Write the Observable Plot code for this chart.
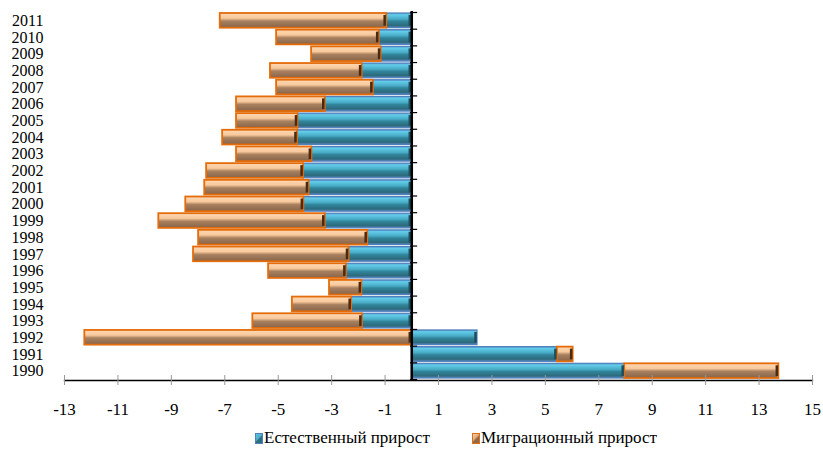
<!DOCTYPE html>
<html>
<head>
<meta charset="utf-8">
<script src="https://cdn.jsdelivr.net/npm/d3@7"></script>
<script src="https://cdn.jsdelivr.net/npm/@observablehq/plot@0.6"></script>
<style>
  body { margin: 0; background: #fff; font-family: 'Liberation Serif', 'Times New Roman', serif; }
  #chart { width: 823px; position: relative; }
  #chart svg, #chart svg text { font-family: 'Liberation Serif', 'Times New Roman', serif !important; }
  .legend { position: relative; height: 21px; font-size: 17px; color: #000; }
  .legend .item { position: absolute; top: 0px; display: flex; align-items: center; white-space: nowrap; }
  .legend .sw { width: 6px; height: 9px; margin-right: 1px; }
  .sw.blue { background: linear-gradient(135deg, #5CC6E4 0%, #4BACC6 45%, #2F6E80 55%, #2F6E80 100%); border: 1px solid #4F81BD; }
  .sw.orange { background: linear-gradient(135deg, #FCD5B4 0%, #D9A77A 45%, #8E6B4E 55%, #8E6B4E 100%); border: 1px solid #E46C0A; }
</style>
</head>
<body>
<div id="chart"></div>
<script>
const years = ["1990","1991","1992","1993","1994","1995","1996","1997","1998","1999","2000","2001","2002","2003","2004","2005","2006","2007","2008","2009","2010","2011"];
const natural = [7.97, 5.45, 2.46, -1.85, -2.25, -1.87, -2.45, -2.35, -1.65, -3.24, -4.04, -3.85, -4.05, -3.74, -4.28, -4.26, -3.24, -1.44, -1.86, -1.15, -1.22, -0.94];
const migration = [5.77, 0.59, -12.24, -4.10, -2.22, -1.21, -2.91, -5.82, -6.33, -6.23, -4.42, -3.90, -3.63, -2.82, -2.80, -2.30, -3.32, -3.62, -3.43, -2.60, -3.84, -6.23];
const seriesNames = ["Естественный прирост", "Миграционный прирост"];
const xTicks = [-13, -11, -9, -7, -5, -3, -1, 1, 3, 5, 7, 9, 11, 13, 15];
const unitLabel = "тыс. человек";

const rows = [];
years.forEach((y, i) => {
  rows.push({year: y, series: seriesNames[0], value: natural[i]});
  rows.push({year: y, series: seriesNames[1], value: migration[i]});
});

// right-hand end of each stacked segment (for the dark bevel facet)
const ends = [];
years.forEach((y, i) => {
  const n = natural[i], m = migration[i];
  const nRight = n > 0 ? n : 0;
  let mRight;
  if (m >= 0) mRight = (n > 0 ? n : 0) + m;
  else mRight = n < 0 ? n : 0;
  ends.push({year: y, series: seriesNames[0], x: nRight});
  ends.push({year: y, series: seriesNames[1], x: mRight});
});

const FONT = "'Liberation Serif', 'Times New Roman', serif";
const plot = Plot.plot({
  width: 823,
  height: 428,
  marginLeft: 64,
  marginRight: 11,
  marginTop: 11,
  marginBottom: 48,
  style: {fontFamily: FONT, fontSize: "17px", color: "#000", background: "#fff"},
  x: {domain: [-13, 15]},
  y: {domain: years.slice().reverse(), padding: 0.12, round: false},
  marks: [
    Plot.barX(rows, Plot.stackX({
      x: "value",
      y: "year",
      order: seriesNames,
      fill: d => d.series === seriesNames[0] ? "url(#gBlue)" : "url(#gOrange)",
      stroke: d => d.series === seriesNames[0] ? "#4F81BD" : "#E46C0A",
      strokeWidth: d => d.series === seriesNames[0] ? 1.2 : 1.8
    })),
    Plot.tickX(ends, {
      x: "x", y: "year", dx: -2, insetTop: 2, insetBottom: 2,
      stroke: d => d.series === seriesNames[0] ? "#1E4E5C" : "#4A2A10",
      strokeWidth: 2.5
    }),
    Plot.frame({anchor: "bottom", stroke: "#000", strokeWidth: 1.3}),
    Plot.ruleX([0], {stroke: "#000", strokeWidth: 2.5}),
    Plot.ruleY(years, {y: d => d, x1: -0.05, x2: 0.22, dy: 8.34, stroke: "#000", strokeWidth: 1.2}),
    Plot.ruleY([years[years.length - 1]], {y: d => d, x1: -0.05, x2: 0.22, dy: -8.34, stroke: "#000", strokeWidth: 1.2}),
    Plot.axisX({ticks: xTicks, tickSize: 5, stroke: "#999", tickPadding: 17, tickFormat: d => (d < 0 ? "-" + Math.abs(d) : String(d)), fontSize: 17, fill: "#000", label: null}),
    Plot.axisX({ticks: xTicks, tickSize: -5, stroke: "#999", tickFormat: () => "", label: null}),
    Plot.axisY({tickSize: 0, tickPadding: 21, fontSize: 16, fill: "#000", label: null}),
    Plot.text([unitLabel], {x: 12.4, y: "1995", dy: 8, text: d => d, fontSize: 17, fill: "#000", textAnchor: "middle"})
  ]
});

const ns = "http://www.w3.org/2000/svg";
const defs = document.createElementNS(ns, "defs");
defs.innerHTML = `
<linearGradient id="gBlue" x1="0" y1="0" x2="0" y2="1">
  <stop offset="0" stop-color="#5A93C8"/>
  <stop offset="0.12" stop-color="#62CDEA"/>
  <stop offset="0.42" stop-color="#48AAC4"/>
  <stop offset="0.55" stop-color="#31869C"/>
  <stop offset="0.85" stop-color="#2C6A7C"/>
  <stop offset="1" stop-color="#5B86BE"/>
</linearGradient>
<linearGradient id="gOrange" x1="0" y1="0" x2="0" y2="1">
  <stop offset="0" stop-color="#FDD9B6"/>
  <stop offset="0.35" stop-color="#F8C99C"/>
  <stop offset="0.55" stop-color="#A8805E"/>
  <stop offset="1" stop-color="#86644A"/>
</linearGradient>`;
plot.insertBefore(defs, plot.firstChild);
document.getElementById("chart").appendChild(plot);

const legend = document.createElement("div");
legend.className = "legend";
legend.innerHTML = `<div class="item" style="left:255px"><div class="sw blue"></div>${seriesNames[0]}</div><div class="item" style="left:472px"><div class="sw orange"></div>${seriesNames[1]}</div>`;
document.getElementById("chart").appendChild(legend);
</script>
</body>
</html>
